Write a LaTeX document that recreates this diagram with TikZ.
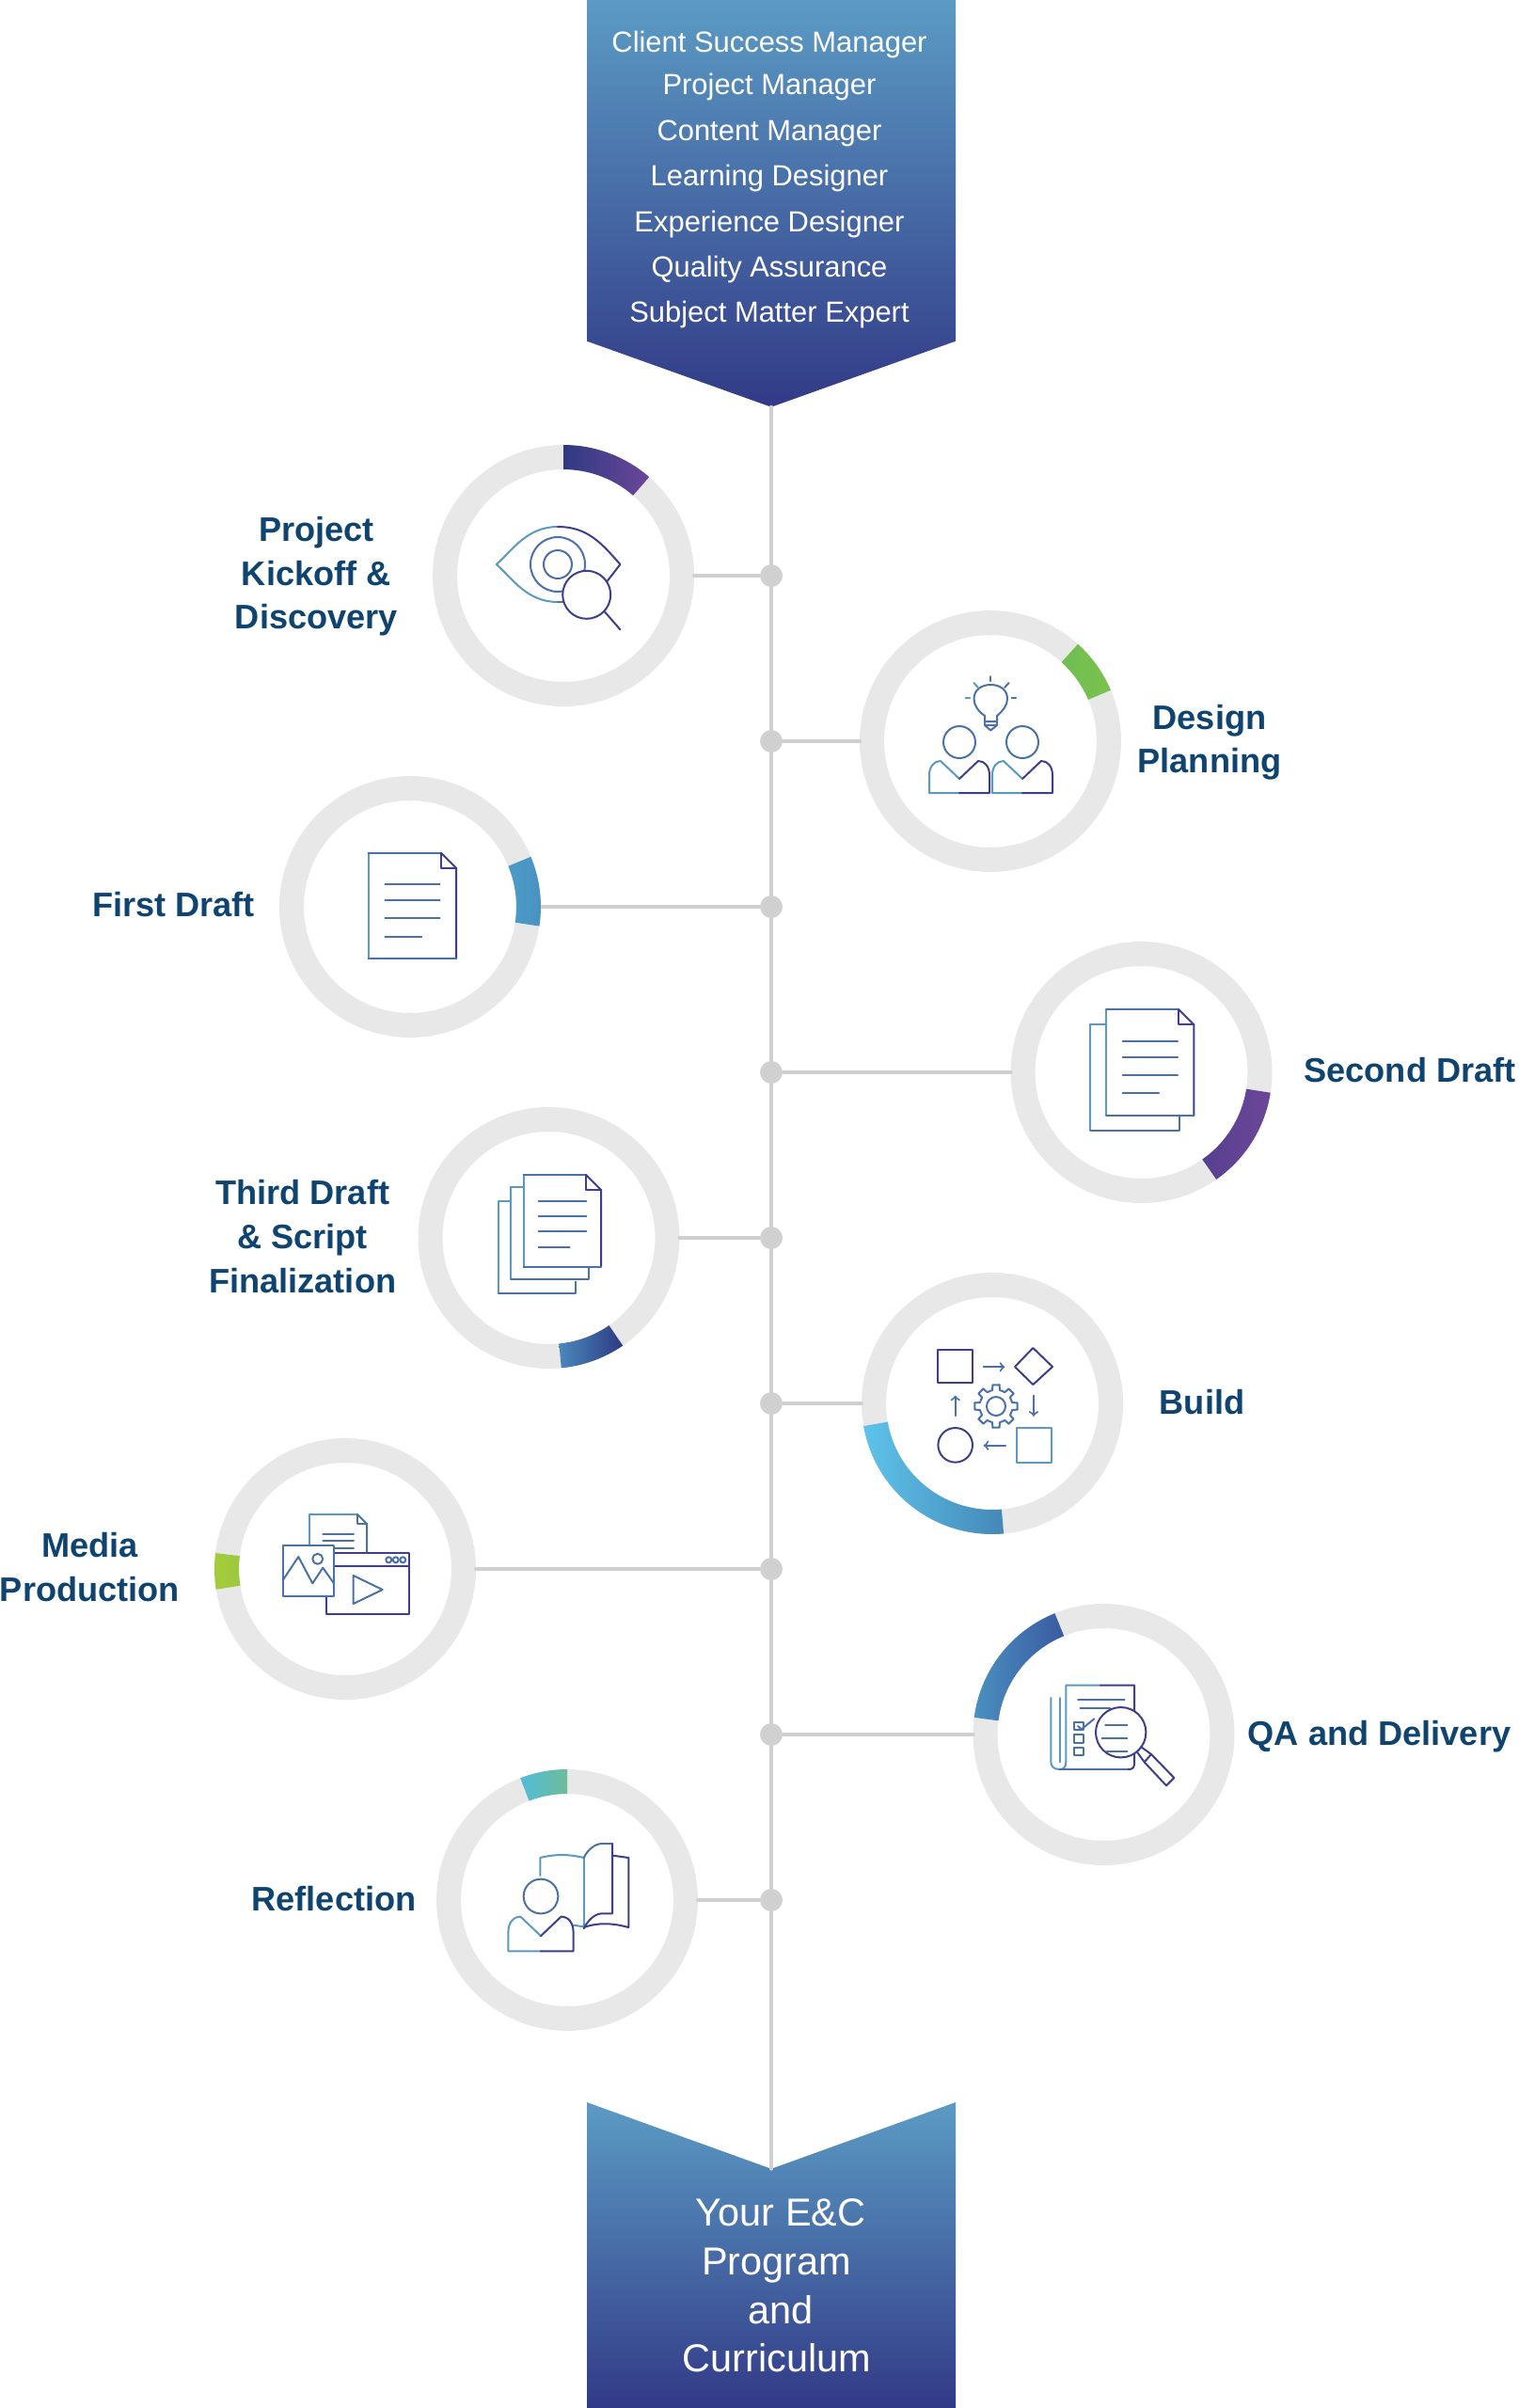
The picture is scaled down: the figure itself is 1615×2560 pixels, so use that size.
\documentclass[tikz,border=0pt]{standalone}
\usepackage{fontspec}
\setmainfont{Liberation Sans}
\usepackage{xcolor}
\usetikzlibrary{calc,positioning}
\definecolor{ringgray}{HTML}{E8E8E8}
\definecolor{linegray}{HTML}{D0D0D0}
\definecolor{labelblue}{HTML}{0F4470}
\definecolor{bandtop}{HTML}{5B9BC4}
\definecolor{bandbot}{HTML}{323A87}
\definecolor{icL}{HTML}{5B9AC0}
\definecolor{icM}{HTML}{4A72A8}
\definecolor{icR}{HTML}{3D3F8C}
\definecolor{kickL}{HTML}{2E3A82}
\definecolor{kickR}{HTML}{6C4699}
\definecolor{designL}{HTML}{6FBF52}
\definecolor{designR}{HTML}{7BC14F}
\definecolor{firstL}{HTML}{4A9BC9}
\definecolor{firstR}{HTML}{4A92C0}
\definecolor{secondL}{HTML}{57408F}
\definecolor{secondR}{HTML}{6C4699}
\definecolor{thirdL}{HTML}{4A88BC}
\definecolor{thirdR}{HTML}{2E3A82}
\definecolor{buildL}{HTML}{5EC3EA}
\definecolor{buildR}{HTML}{4488B8}
\definecolor{mediaL}{HTML}{A4CC3C}
\definecolor{mediaR}{HTML}{9CC83C}
\definecolor{qaL}{HTML}{4A90C0}
\definecolor{qaR}{HTML}{3A5AA0}
\definecolor{reflectL}{HTML}{52BCDA}
\definecolor{reflectR}{HTML}{6CBC96}
\newcommand{\ringarc}[5]{\shade[left color=#4,right color=#5] ($(#1)+(#2:2.78cm)$) arc[start angle=#2,end angle=#3,radius=2.78cm] -- ($(#1)+(#3:2.26cm)$) arc[start angle=#3,end angle=#2,radius=2.26cm] -- cycle;}
\newcommand{\foldpage}[4]{%
  \fill[white] (#1,#2) -- (#3-16,#2) -- (#3,#2+16) -- (#3,#4) -- (#1,#4) -- cycle;
  \draw[icL] (#1,#4) -- (#1,#2);
  \draw[icM] (#1,#2) -- (#3-16,#2);
  \draw[icR] (#3-16,#2) -- (#3,#2+16) -- (#3,#4);
  \draw[icM] (#1,#4) -- (#3,#4);
  \draw[icR] (#3-16,#2) -- (#3-16,#2+16) -- (#3,#2+16);}
\tikzset{user/.pic={
  \draw[icM,fill=white] (0,0) circle [radius=.34cm];
  \fill[white] (-32,54) -- (-32,35) .. controls (-32,26) and (-27,20) .. (-20,20) -- (0,39) -- (20,20) .. controls (27,20) and (32,26) .. (32,35) -- (32,54) -- cycle;
  \draw[icL] (0,54) -- (-32,54) -- (-32,35) .. controls (-32,26) and (-27,20) .. (-20,20) -- (0,39);
  \draw[icR] (0,39) -- (20,20) .. controls (27,20) and (32,26) .. (32,35) -- (32,54) -- (0,54);
}}
\begin{document}
\begin{tikzpicture}[x=.02cm,y=-.02cm,>=to,line join=round]
  \tikzstyle{ring}=[circle,draw=ringgray,line width=.52cm,fill=white,minimum size=5.04cm,inner sep=0pt]
  \tikzstyle{dot}=[circle,fill=linegray,minimum size=.48cm,inner sep=0pt]
  \tikzstyle{link}=[draw=linegray,line width=.08cm]
  \tikzstyle{steplabel}=[text=labelblue,align=center,inner sep=0pt,font=\fontsize{20.6}{26.5}\selectfont\bfseries]
  \tikzstyle{bandtext}=[text=white,anchor=base,inner sep=0pt,font=\fontsize{17.6}{21}\selectfont]
  \tikzstyle{endtext}=[text=white,anchor=base,inner sep=0pt,font=\fontsize{23.6}{28}\selectfont]
  \tikzset{every path/.append style={line width=.04cm,line cap=round}}
  \useasboundingbox (0,0) rectangle (1615,2560);

  \shade[top color=bandtop,bottom color=bandbot] (624,0) -- (1016,0) -- (1016,362.7) -- (820,432.7) -- (624,362.7) -- cycle;
  \shade[top color=bandtop,bottom color=bandbot] (624,2235) -- (820,2305.7) -- (1016,2235) -- (1016,2560) -- (624,2560) -- cycle;
  \coordinate (tip) at (820,432.7);
  \coordinate (notch) at (820,2305.7);
  \draw[link] (tip) -- (notch);

  \node[bandtext] (client) at (818,55) {Client Success Manager};
  \node[bandtext] (project) at (818,100) {Project Manager};
  \node[bandtext] (content) at (818,149) {Content Manager};
  \node[bandtext] (learning) at (818,197.3) {Learning Designer};
  \node[bandtext] (experience) at (818,246) {Experience Designer};
  \node[bandtext] (quality) at (818,294) {Quality Assurance};
  \node[bandtext] (subject) at (818,342.7) {Subject Matter Expert};
  \node[endtext] (your) at (830,2366) {Your E\&C};
  \node[endtext] (program) at (825.8,2418) {Program};
  \node[endtext] (and) at (830,2470) {and};
  \node[endtext] (curriculum) at (825.8,2521.7) {Curriculum};

  \node[dot] (dotA) at (820,612) {};
  \node[dot] (dotB) at (820,788) {};
  \node[dot] (dotC) at (820,964) {};
  \node[dot] (dotD) at (820,1140) {};
  \node[dot] (dotE) at (820,1316) {};
  \node[dot] (dotF) at (820,1492) {};
  \node[dot] (dotG) at (820,1668) {};
  \node[dot] (dotH) at (820,1844) {};
  \node[dot] (dotI) at (820,2020) {};

  \node[ring] (kickoff) at (599,612) {};
  \node[ring] (design) at (1053,788) {};
  \node[ring] (first) at (436,964) {};
  \node[ring] (second) at (1213.5,1140) {};
  \node[ring] (third) at (583.5,1316) {};
  \node[ring] (build) at (1055,1492) {};
  \node[ring] (media) at (367,1668) {};
  \node[ring] (qa) at (1173.5,1844) {};
  \node[ring] (reflect) at (603,2020) {};

  \draw[link] (kickoff) -- (dotA);
  \draw[link] (design) -- (dotB);
  \draw[link] (first) -- (dotC);
  \draw[link] (second) -- (dotD);
  \draw[link] (third) -- (dotE);
  \draw[link] (build) -- (dotF);
  \draw[link] (media) -- (dotG);
  \draw[link] (qa) -- (dotH);
  \draw[link] (reflect) -- (dotI);

  \ringarc{kickoff}{90}{49}{kickL}{kickR}
  \ringarc{design}{48}{23}{designL}{designR}
  \ringarc{first}{22.5}{-8.5}{firstL}{firstR}
  \ringarc{second}{-9}{-55}{secondL}{secondR}
  \ringarc{third}{-84.5}{-55.5}{thirdL}{thirdR}
  \ringarc{build}{190}{275}{buildL}{buildR}
  \ringarc{media}{173}{189}{mediaL}{mediaR}
  \ringarc{qa}{112}{172.5}{qaL}{qaR}
  \ringarc{reflect}{90}{111}{reflectL}{reflectR}

  \node[steplabel] (kickofftext) at (336.4,613) {Project\\Kickoff \&\\Discovery};
  \node[steplabel] (designtext) at (1286,789) {Design\\Planning};
  \node[steplabel] (firsttext) at (184.5,962) {First Draft};
  \node[steplabel] (secondtext) at (1499,1138) {Second Draft};
  \node[steplabel] (thirdtext) at (321.7,1314.5) {Third Draft\\\& Script\\Finalization};
  \node[steplabel] (buildtext) at (1278,1490.5) {Build};
  \node[steplabel] (mediatext) at (95.5,1666) {Media\\Production};
  \node[steplabel] (qatext) at (1466.5,1846) {QA and Delivery};
  \node[steplabel] (reflecttext) at (355,2019) {Reflection};

  % eye
  \draw[icL] (593,560) .. controls (560,560) and (545,585) .. (527.8,600) .. controls (545,615) and (560,640) .. (593,640);
  \draw[icR] (593,560) .. controls (625,560) and (640,578) .. (659.4,600) -- (640,625);
  \draw[icM] (593,640) -- (610,640);
  \draw[icM] (593,600) circle [radius=.58cm];
  \draw[icM] (593,600) circle [radius=.3cm];
  \draw[icR,fill=white] (623.7,632.3) circle [radius=.51cm];
  \draw[icR] (642.6,650) -- (659.4,669.3);

  % bulb and two people
  \draw[icM] (1047,767) -- (1047,761) .. controls (1040,756) and (1035.5,750) .. (1035.5,743) .. controls (1035.5,733) and (1044,728) .. (1053.3,728) .. controls (1063,728) and (1071,733) .. (1071,743) .. controls (1071,750) and (1066,756) .. (1060,761) -- (1060,767) -- cycle;
  \draw[icM] (1047,767) rectangle (1060,771);
  \draw[icM] (1047,771) -- (1053.3,776.5) -- (1060,771);
  \draw[icM] (1053.3,719) -- (1053.3,724);
  \draw[icL] (1035.4,726) -- (1040,731);
  \draw[icM] (1072.6,726) -- (1068,731);
  \draw[icL] (1026.7,741.7) -- (1031,741.7);
  \draw[icM] (1075.5,741.7) -- (1080,741.7);
  \path (1020,789) pic {user};
  \path (1087,789) pic {user};

  % first draft
  \foldpage{391.7}{906.7}{485}{1019}
  \foreach \ypos in {939.7,956.7,976.3} \draw[icM] (409.3,\ypos) -- (467.7,\ypos);
  \draw[icM] (409.3,995.7) -- (448.3,995.7);

  % second draft
  \draw[icL] (1176,1089.3) -- (1159.3,1089.3) -- (1159.3,1201.7);
  \draw[icM] (1159.3,1201.7) -- (1254,1201.7) -- (1254,1185.7);
  \foldpage{1176}{1073.3}{1269.3}{1185.7}
  \foreach \ypos in {1106.7,1123.7,1143.3} \draw[icM] (1193.7,\ypos) -- (1252,\ypos);
  \draw[icM] (1193.7,1162.3) -- (1232,1162.3);

  % third draft
  \draw[icL] (543.3,1277.3) -- (530,1277.3) -- (530,1375);
  \draw[icM] (530,1375) -- (612,1375) -- (612,1362.7);
  \draw[icL] (556.7,1262.3) -- (543.3,1262.3) -- (543.3,1360);
  \draw[icM] (543.3,1360) -- (625.7,1360) -- (625.7,1346.7);
  \foldpage{556.7}{1249}{639}{1346.7}
  \foreach \ypos in {1277.3,1292.7,1309.3} \draw[icM] (572.7,\ypos) -- (623.3,\ypos);
  \draw[icM] (572.7,1326) -- (605.7,1326);

  % build
  \draw[icR] (997.3,1435.4) rectangle (1034,1470.4);
  \draw[->,icM] (1045.7,1453.3) -- (1068.3,1453.3);
  \draw[icR] (1079,1453) -- (1098.3,1433) -- (1119,1453) -- (1098.3,1472) -- cycle;
  \draw[->,icM] (1015.7,1505) -- (1015.7,1483.5);
  \draw[->,icM] (1099,1483.5) -- (1099,1505.8);
  \draw[icR] (1015.7,1536.3) circle [radius=.366cm];
  \draw[->,icM] (1069,1536.7) -- (1045.7,1536.7);
  \draw[icL] (1081,1518.4) rectangle (1117.7,1554.7);
  \begin{scope}[shift={(1059,1495)}]
    \foreach \a in {0,45,...,315} \draw[icM] (\a-9:.46cm) -- (\a+9:.46cm) -- (\a+13:.35cm) arc[start angle=\a+13,end angle=\a+32,radius=.35cm] -- (\a+36:.46cm);
    \draw[icM] (0,0) circle [radius=.2cm];
  \end{scope}

  % media
  \draw[icL] (329.3,1643) -- (329.3,1610) -- (380,1610);
  \draw[icM] (380,1610) -- (390,1620) -- (390,1650.7);
  \draw[icM] (380,1610) -- (380,1620) -- (390,1620);
  \foreach \ypos in {1631,1637.7,1646} \draw[icM] (343.3,\ypos) -- (376,\ypos);
  \draw[icR,fill=white] (346.7,1651) rectangle (435,1715.7);
  \draw[icR] (355,1665) -- (435,1665);
  \foreach \xpos in {413.3,420.7,428.3} \draw[icM] (\xpos,1658.3) circle [radius=.06cm];
  \draw[icM] (375.7,1675) -- (406.7,1690) -- (375.7,1705) -- cycle;
  \draw[icM,fill=white] (300.7,1643.3) rectangle (355,1697.3);
  \draw[icM] (300.7,1680) -- (317.3,1655) -- (332.3,1683.3) -- (343.3,1666.7) -- (355,1683.3);
  \draw[icM] (337.7,1657.3) circle [radius=.11cm];

  % qa and delivery
  \draw[icL] (1117.3,1805) -- (1117.3,1873.3) .. controls (1117.3,1878) and (1121,1881) .. (1126.7,1881) .. controls (1131,1881) and (1133.3,1878) .. (1133.3,1873.3) -- (1133.3,1791.7) -- (1170,1791.7);
  \draw[icL] (1126.7,1805) -- (1126.7,1873.3);
  \draw[icM] (1126.7,1881) -- (1200,1881);
  \draw[icR] (1170,1791.7) -- (1206,1791.7) -- (1206,1875) .. controls (1206,1879) and (1204,1881) .. (1200,1881);
  \draw[icM] (1146,1806.7) -- (1195.7,1806.7);
  \draw[icM] (1148.3,1815.7) -- (1180,1815.7);
  \draw[icM] (1142.3,1831) rectangle (1151.7,1839.3);
  \draw[icM] (1142.3,1844.3) rectangle (1151.7,1852.7);
  \draw[icM] (1142.3,1857.7) rectangle (1151.7,1866);
  \draw[icM] (1146,1835) -- (1150,1838.3) -- (1163.3,1827.3);
  \draw[icR,fill=white] (1191.7,1841.7) circle [radius=.534cm];
  \draw[icM] (1175,1834) -- (1198.3,1834);
  \draw[icM] (1171.7,1848.3) -- (1198.3,1848.3);
  \draw[icM] (1176.7,1862.3) -- (1198.3,1862.3);
  \draw[icR] (1208.5,1862) -- (1216.7,1873.3) -- (1240,1898.3) -- (1248.3,1890) -- (1224,1865) -- (1213,1857);
  \draw[icR] (1216.7,1873.3) -- (1224,1865);

  % reflection
  \draw[icL] (574.3,1994) -- (574.3,1975) .. controls (590,1971) and (605,1971) .. (620.7,1975);
  \draw[icL] (610,2046.7) -- (620.7,2048.3);
  \draw[icR] (651.7,1972.7) -- (668.3,1975) -- (668.3,2049) .. controls (650,2044) and (635,2044) .. (620.7,2049);
  \draw[icL] (620.7,1975) -- (620.7,2050);
  \draw[icM] (620.7,1975) .. controls (625,1966) and (633,1960) .. (640,1960) -- (651,1960);
  \draw[icR] (651,1960) -- (651,2034.3) -- (640,2034.3) .. controls (632,2034.3) and (625,2042) .. (620.7,2050);
  \path (575,2016) pic[scale=1.08] {user};
\end{tikzpicture}
\end{document}
